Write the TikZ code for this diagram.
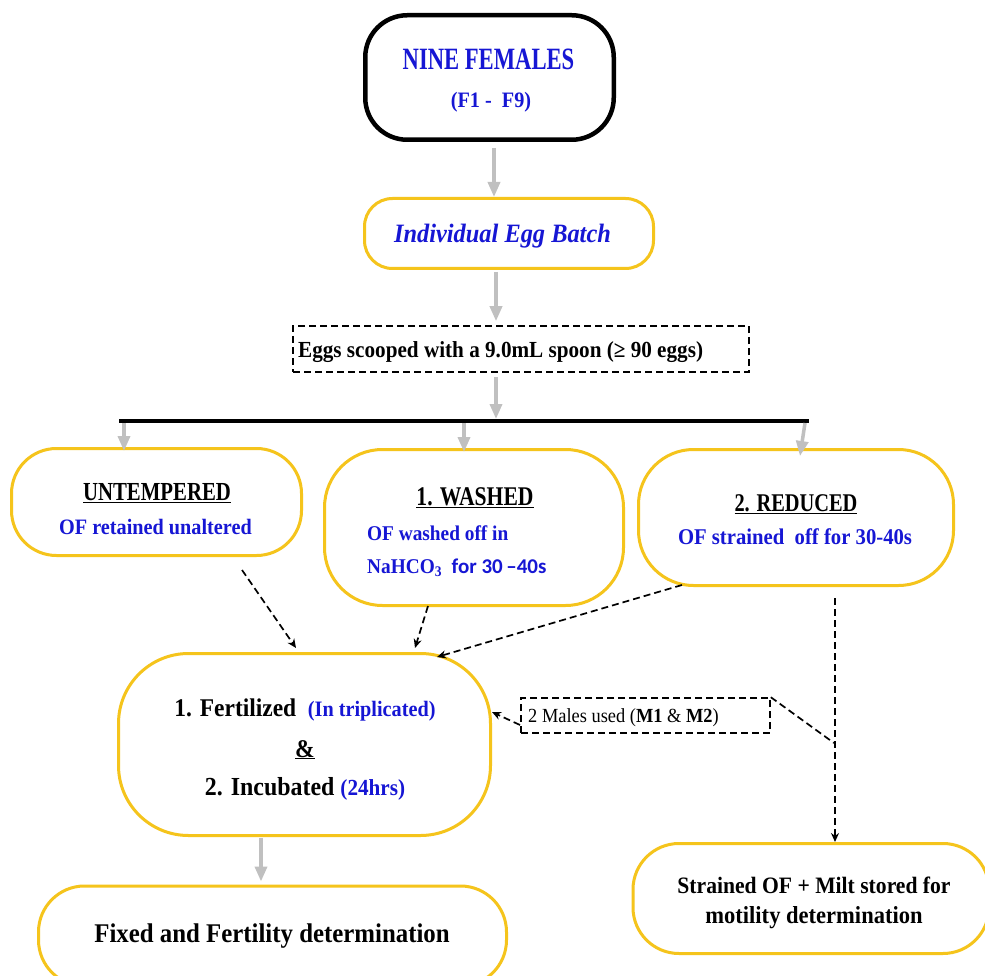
\documentclass[tikz,border=0pt]{standalone}
\usepackage{fontspec}
\setmainfont{Liberation Serif}[FakeStretch=0.92]
\newfontfamily\fN{Liberation Serif}[FakeStretch=0.92]
\newfontfamily\fT{Liberation Serif}[FakeStretch=0.8]
\newfontfamily\fC{Liberation Serif}[FakeStretch=0.73]
\newfontfamily\fS{Carlito}
\usetikzlibrary{arrows.meta,calc}
\definecolor{ygold}{RGB}{245,196,28}
\definecolor{tblue}{RGB}{22,22,212}
\definecolor{agray}{RGB}{192,192,192}
\tikzset{
  ybox/.style={draw=ygold, line width=3pt, rounded corners=#1, inner sep=0pt},
  bbox/.style={draw=black, line width=4.5pt, rounded corners=#1, inner sep=0pt},
  dbox/.style={draw=black, line width=1.6pt, dash pattern=on 7pt off 4pt, inner sep=0pt},
  txt/.style={inner sep=0pt, anchor=base},
  ltxt/.style={inner sep=0pt, anchor=base west},
  sz/.style={font=\fN\bfseries\fontsize{#1}{#1}\selectfont},
  tsz/.style={font=\fT\bfseries\fontsize{#1}{#1}\selectfont},
  garrow/.style={draw=agray, line width=3.5pt, -{Triangle[length=15pt,width=12pt]}},
  darrow/.style={draw=black, line width=1.7pt, dash pattern=on 7pt off 4pt, -{Stealth[length=9pt,width=8pt]}},
  dline/.style={draw=black, line width=1.7pt, dash pattern=on 7pt off 4pt},
}
\begin{document}
\begin{tikzpicture}[x=1pt,y=-1pt]
\clip (0,0) rectangle (985,976);
\fill[white] (0,0) rectangle (985,976);

% ---------- boxes ----------
\node[bbox=42pt, minimum width=248.5pt, minimum height=124.5pt] (fem) at (489.5,77.5) {};
\node[ybox=28pt, minimum width=289pt, minimum height=70pt] (egg) at (509,233.5) {};
\node[dbox, minimum width=456pt, minimum height=46pt] (scoop) at (521,349) {};
\node[ybox=45pt, minimum width=290pt, minimum height=107pt] (unt) at (156.5,502) {};
\node[ybox=58pt, minimum width=299pt, minimum height=156pt] (wash) at (474,527.5) {};
\node[ybox=55pt, minimum width=315pt, minimum height=136pt] (red) at (796,517.5) {};
\node[ybox=70pt, minimum width=372pt, minimum height=182pt] (fert) at (304.5,744.5) {};
\node[dbox, minimum width=249pt, minimum height=35pt] (males) at (645.5,715.5) {};
\node[ybox=46pt, minimum width=356pt, minimum height=110pt] (strain) at (811,898.5) {};
\node[ybox=46pt, minimum width=468pt, minimum height=100pt] (fixed) at (272.5,936) {};

% ---------- texts ----------
\node[txt, text=tblue, font=\fC\bfseries\fontsize{31}{31}\selectfont] (femA) at (488.5,70) {NINE FEMALES};
\node[txt, text=tblue, sz=22] (femB) at (491,107.5) {(F1 -\ \ F9)};
\node[txt, text=tblue, font=\fN\bfseries\itshape\fontsize{26.5}{26.5}\selectfont] (eggT) at (502.5,243) {Individual Egg Batch};
\node[ltxt, sz=23] (scoopT) at (298,357) {Eggs scooped with a 9.0mL spoon (≥ 90 eggs)};

\node[txt, tsz=26] (untA) at (157,500.5) {\underline{UNTEMPERED}};
\node[txt, text=tblue, sz=22] (untB) at (155.5,534.5) {OF retained unaltered};

\node[txt, tsz=27] (washA) at (475,505) {\underline{1. WASHED}};
\node[ltxt, text=tblue, sz=21] (washB) at (367,540) {OF washed off in};
\node[ltxt, text=tblue, sz=21] (washC) at (367,573) {NaHCO\textsubscript{3}\ \ {\fS\bfseries for 30\,–40s}};

\node[txt, tsz=25.5] (redA) at (796,511.5) {\underline{2. REDUCED}};
\node[txt, text=tblue, sz=22.5] (redB) at (795,544.5) {OF strained\ \ off for 30-40s};

\node[txt, sz=25.5] (fertA) at (305,716.5) {1. Fertilized\ \ {\color{tblue}\fontsize{22}{22}\selectfont (In triplicated)}};
\node[txt, sz=25.5] (fertB) at (305,757) {\underline{\&}};
\node[txt, sz=26] (fertC) at (305,795.5) {2. Incubated {\color{tblue}\fontsize{23}{23}\selectfont (24hrs)}};

\node[ltxt, font=\fN\fontsize{20}{20}\selectfont] (malesT) at (528,722) {2 Males used (\textbf{M1} \& \textbf{M2})};

\node[txt, sz=23.5] (strainA) at (814,893) {Strained OF + Milt stored for};
\node[txt, sz=24.5] (strainB) at (814,923) {motility determination};
\node[txt, sz=27] (fixedT) at (272,942) {Fixed and Fertility determination};

% ---------- bar ----------
\coordinate (barL) at (119,421);
\coordinate (barR) at (809,421);
\coordinate (b1) at (124,423);
\coordinate (b2) at (464,423);
\coordinate (b3) at (805,423);
\coordinate (r3) at (800,456);
\draw[line width=4.5pt] (barL) -- (barR);

% ---------- gray arrows ----------
\coordinate (g1) at (494,148);
\coordinate (g2) at (496,272);
\coordinate (g3) at (261,838);
\draw[garrow] (g1) -- (g1 |- egg.north);
\draw[garrow, shorten >=4pt] (g2) -- (g2 |- scoop.north);
\draw[garrow, shorten <=4pt, shorten >=2pt] (g2 |- scoop.south) -- (g2 |- barL);
\draw[garrow, shorten >=-4pt] (b1) -- (b1 |- unt.north);
\draw[garrow, shorten >=-4pt] (b2) -- (b2 |- wash.north);
\draw[garrow] (b3) -- (r3);
\draw[garrow, shorten >=3pt] (g3) -- (g3 |- fixed.north);

% ---------- dashed arrows ----------
\coordinate (u1) at (242,570);
\coordinate (f1) at (296,648);
\coordinate (w1) at (428,606);
\coordinate (f2) at (415,648);
\coordinate (r1) at (682,585);
\coordinate (f3) at (437,657);
\coordinate (m1) at (520,725);
\coordinate (f4) at (492,712);
\coordinate (vtop) at (835,598);
\coordinate (join) at (834,743);
\draw[darrow] (u1) -- (f1);
\draw[darrow] (w1) -- (f2);
\draw[darrow] (r1) -- (f3);
\draw[darrow] (m1) -- (f4);
\draw[darrow] (vtop) -- (vtop |- strain.north);
\draw[dline] (males.north east) -- (join);
\end{tikzpicture}
\end{document}
